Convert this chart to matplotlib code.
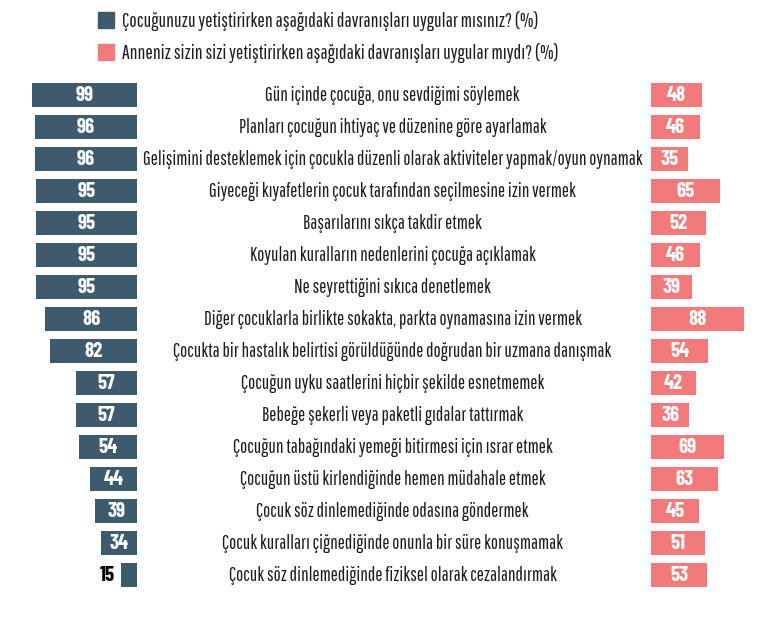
import matplotlib
matplotlib.use("Agg")
import matplotlib.pyplot as plt
from matplotlib.patches import Rectangle
from matplotlib import transforms

# ---------------- data ----------------
categories = [
    "Gün içinde çocuğa, onu sevdiğimi söylemek",
    "Planları çocuğun ihtiyaç ve düzenine göre ayarlamak",
    "Gelişimini desteklemek için çocukla düzenli olarak aktiviteler yapmak/oyun oynamak",
    "Giyeceği kıyafetlerin çocuk tarafından seçilmesine izin vermek",
    "Başarılarını sıkça takdir etmek",
    "Koyulan kuralların nedenlerini çocuğa açıklamak",
    "Ne seyrettiğini sıkıca denetlemek",
    "Diğer çocuklarla birlikte sokakta, parkta oynamasına izin vermek",
    "Çocukta bir hastalık belirtisi görüldüğünde doğrudan bir uzmana danışmak",
    "Çocuğun uyku saatlerini hiçbir şekilde esnetmemek",
    "Bebeğe şekerli veya paketli gıdalar tattırmak",
    "Çocuğun tabağındaki yemeği bitirmesi için ısrar etmek",
    "Çocuğun üstü kirlendiğinde hemen müdahale etmek",
    "Çocuk söz dinlemediğinde odasına göndermek",
    "Çocuk kuralları çiğnediğinde onunla bir süre konuşmamak",
    "Çocuk söz dinlemediğinde fiziksel olarak cezalandırmak",
]
parents_now = [99, 96, 96, 95, 95, 95, 95, 86, 82, 57, 57, 54, 44, 39, 34, 15]
their_mothers = [48, 46, 35, 65, 52, 46, 39, 88, 54, 42, 36, 69, 63, 45, 51, 53]
legend_labels = [
    "Çocuğunuzu yetiştirirken aşağıdaki davranışları uygular mısınız? (%)",
    "Anneniz sizin sizi yetiştirirken aşağıdaki davranışları uygular mıydı? (%)",
]

# ---------------- style ----------------
DARK = "#3e5b6e"
PINK = "#f27a7a"
TXT = "#1b1b22"
LABEL_FONT = "Pathway Gothic One"
NUM_FONT = "Barlow Condensed"

W, H = 762, 621
fig = plt.figure(figsize=(W / 100, H / 100), dpi=100)

def fx(px):
    return px / W

def fy(py):
    return 1 - py / H

n = len(categories)
top_px, bot_px = 79.0, 591.5
ax_b = fy(bot_px)
ax_h = fy(top_px) - ax_b

left_edge = 137
right_edge = 651
scale_l = 1.065
scale_r = 1.06

axL = fig.add_axes([0, ax_b, fx(left_edge), ax_h])
axR = fig.add_axes([fx(right_edge), ax_b, fx(W - right_edge), ax_h])

ypos = list(range(n))
axL.barh(ypos, parents_now, height=0.75, color=DARK)
axR.barh(ypos, their_mothers, height=0.75, color=PINK)

axL.set_xlim(left_edge / scale_l, 0)
axR.set_xlim(0, (W - right_edge) / scale_r)
for ax in (axL, axR):
    ax.set_ylim(n - 0.5, -0.5)
    ax.axis("off")

# value labels
for y, v in zip(ypos, parents_now):
    if v >= 25:
        axL.text(v / 2, y, str(v), ha="center", va="center", color="white",
                 fontsize=15, fontweight="bold", family=NUM_FONT)
    else:
        axL.text(v + 5.5, y, str(v), ha="right", va="center", color="black",
                 fontsize=15, fontweight="bold", family=NUM_FONT)
for y, v in zip(ypos, their_mothers):
    axR.text(v / 2, y, str(v), ha="center", va="center", color="white",
             fontsize=15, fontweight="bold", family=NUM_FONT)

# category labels in the middle
tr = transforms.blended_transform_factory(fig.transFigure, axL.transData)
for y, c in zip(ypos, categories):
    fig.text(fx(392.5), y, c, transform=tr, ha="center", va="center",
             color=TXT, fontsize=13.7, family=LABEL_FONT)

# legend
for i, (lab, col) in enumerate(zip(legend_labels, [DARK, PINK])):
    top = 12 + 31.5 * i
    fig.patches.append(Rectangle((fx(98), fy(top + 16)), fx(16), 16 / H,
                                 transform=fig.transFigure, color=col))
    fig.text(fx(122), fy(top + 9), lab, ha="left", va="center", color=TXT,
             fontsize=14.0, family=LABEL_FONT)

fig.savefig("out.png", dpi=100)
